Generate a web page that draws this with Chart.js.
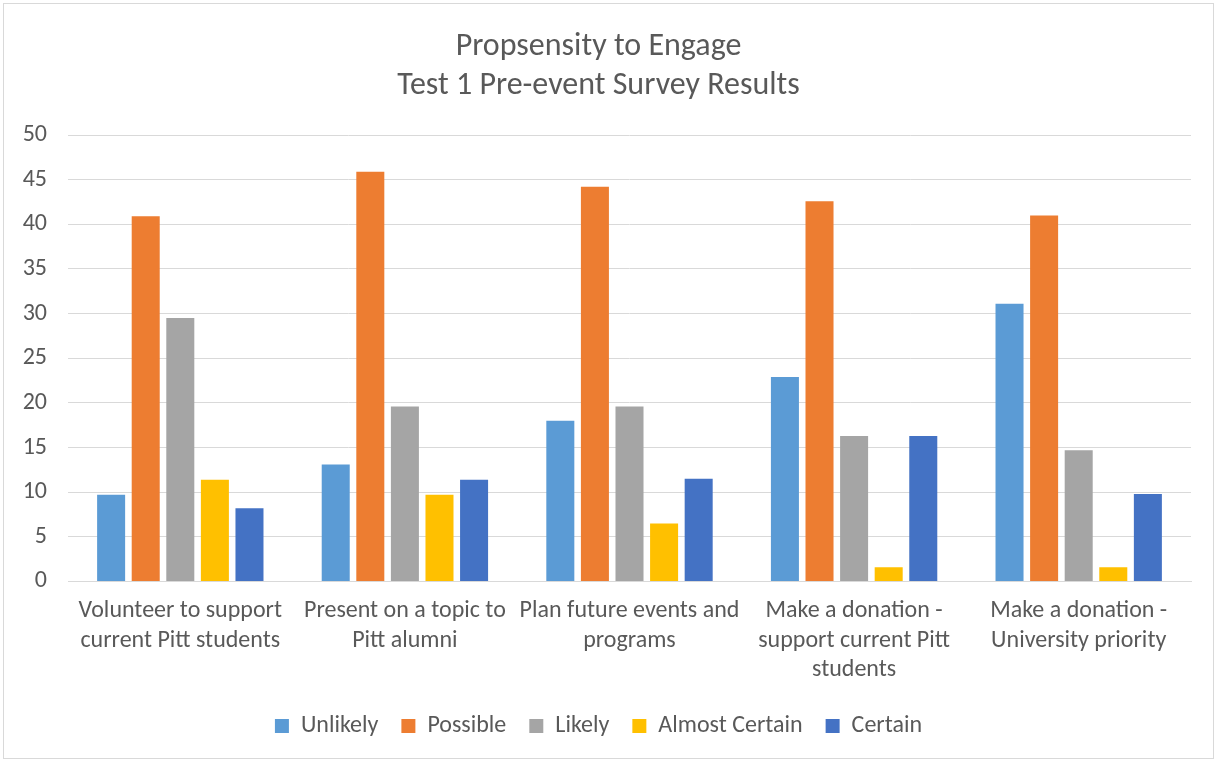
<!DOCTYPE html>
<html>
<head>
<meta charset="utf-8">
<script src="https://cdn.jsdelivr.net/npm/chart.js@4"></script>
<style>
  body { margin: 0; background: #fff; }
  #wrap { position: absolute; left: 3px; top: 3px; width: 1209px; height: 754px; border: 1px solid #d9d9d9; }
</style>
</head>
<body>
<div id="wrap"><canvas id="myChart"></canvas></div>
<script>
// categories and series
const categories = [
    ["Volunteer to support", "current Pitt students"],
    ["Present on a topic to", "Pitt alumni"],
    ["Plan future events and", "programs"],
    ["Make a donation -", "support current Pitt", "students"],
    ["Make a donation -", "University priority"]
];
const unlikely = [9.7, 13.1, 18.0, 22.9, 31.1];
const possible = [40.9, 45.9, 44.2, 42.6, 41.0];
const likely = [29.5, 19.6, 19.6, 16.3, 14.7];
const almostCertain = [11.4, 9.7, 6.5, 1.6, 1.6];
const certain = [8.2, 11.4, 11.5, 16.3, 9.8];

const textColor = '#595959';
const fontFamily = "Carlito, Calibri, Lato, sans-serif";

// lift the legend a bit so it sits closer to the axis labels
const legendShift = {
    id: 'legendShift',
    afterLayout(chart) {
        chart.legend.top -= 1;
        chart.legend.bottom -= 1;
    }
};

const ctx = document.getElementById('myChart').getContext('2d');
const myChart = new Chart(ctx, {
    type: 'bar',
    data: {
        labels: categories,
        datasets: [
            { label: 'Unlikely', data: unlikely, backgroundColor: '#5B9BD5' },
            { label: 'Possible', data: possible, backgroundColor: '#ED7D31' },
            { label: 'Likely', data: likely, backgroundColor: '#A5A5A5' },
            { label: 'Almost Certain', data: almostCertain, backgroundColor: '#FFC000' },
            { label: 'Certain', data: certain, backgroundColor: '#4472C4' }
        ]
    },
    plugins: [legendShift],
    options: {
        responsive: true,
        maintainAspectRatio: false,
        animation: false,
        datasets: {
            bar: { categoryPercentage: 0.77, barPercentage: 0.81 }
        },
        layout: { padding: { left: 2, right: 22, top: 23, bottom: 9 } },
        plugins: {
            title: {
                display: true,
                text: ['Propsensity to Engage', 'Test 1 Pre-event Survey Results'],
                color: textColor,
                font: { family: fontFamily, size: 32, weight: 'normal', lineHeight: 1.22 },
                padding: { top: 0, bottom: 30 }
            },
            legend: {
                position: 'bottom',
                labels: {
                    color: textColor,
                    font: { family: fontFamily, size: 24 },
                    boxWidth: 14,
                    boxHeight: 14,
                    padding: 23
                }
            },
            tooltip: { enabled: false }
        },
        scales: {
            x: {
                grid: { display: false },
                border: { color: '#d9d9d9' },
                ticks: {
                    color: textColor,
                    font: { family: fontFamily, size: 24, lineHeight: 1.23 },
                    maxRotation: 0,
                    autoSkip: false,
                    padding: 7
                }
            },
            y: {
                min: 0,
                max: 50,
                afterFit: function(scale) { scale.width = 62; },
                grid: { color: '#d9d9d9', drawTicks: false },
                border: { display: false },
                ticks: {
                    stepSize: 5,
                    color: textColor,
                    font: { family: fontFamily, size: 24 },
                    padding: 21
                }
            }
        }
    }
});
</script>
</body>
</html>
